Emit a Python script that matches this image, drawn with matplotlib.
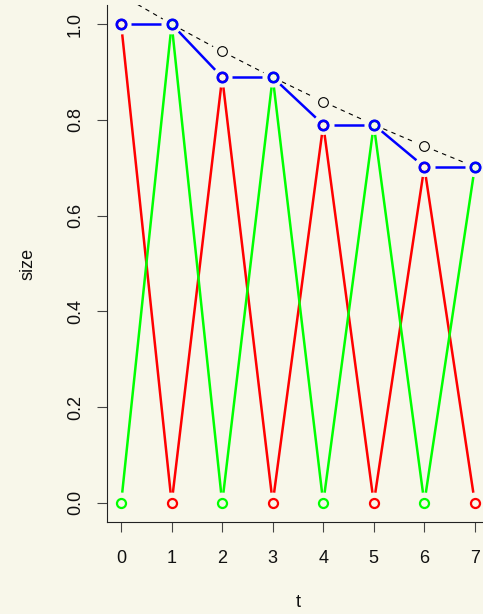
import numpy as np
import matplotlib

matplotlib.use("Agg")
import matplotlib.pyplot as plt

plt.rcParams["font.family"] = ["Liberation Sans", "DejaVu Sans"]

BG = "#f8f7ea"

t = [0, 1, 2, 3, 4, 5, 6, 7]
red = [1.0, 0.0, 0.889, 0.0, 0.790, 0.0, 0.702, 0.0]
green = [0.0, 1.0, 0.0, 0.889, 0.0, 0.790, 0.0, 0.702]
blue = [1.0, 1.0, 0.889, 0.889, 0.790, 0.790, 0.702, 0.702]
envelope = [1.061, 1.0, 0.943, 0.889, 0.838, 0.790, 0.745, 0.702]

x_ticks = [0, 1, 2, 3, 4, 5, 6, 7]
y_ticks = [0.0, 0.2, 0.4, 0.6, 0.8, 1.0]
y_ticklabels = ["0.0", "0.2", "0.4", "0.6", "0.8", "1.0"]


def joined_with_gaps(ax, x, y, gap_pt, **kw):
    """Connect points like R's type='b': each segment stops short of the points."""
    gap = gap_pt * ax.figure.dpi / 72.0
    pts = ax.transData.transform(np.column_stack([x, y]))
    inv = ax.transData.inverted()
    for p0, p1 in zip(pts[:-1], pts[1:]):
        d = p1 - p0
        length = np.hypot(*d)
        if length <= 2 * gap:
            continue
        u = d / length
        seg = inv.transform(np.array([p0 + u * gap, p1 - u * gap]))
        ax.plot(seg[:, 0], seg[:, 1], solid_capstyle="butt", dash_capstyle="butt", **kw)


fig = plt.figure(figsize=(4.83, 6.14), dpi=100, facecolor=BG)
ax = fig.add_axes([107 / 483, 92 / 614, 382 / 483, 517 / 614], facecolor=BG)
ax.set_xlim(-0.28, 7.28)
ax.set_ylim(-0.04, 1.04)

gap = 7.4
joined_with_gaps(ax, t, red, gap, color="#ff0000", lw=1.8, zorder=2)
joined_with_gaps(ax, t, green, gap, color="#00ff00", lw=1.8, zorder=2)
ax.plot(t, red, ls="none", marker="o", ms=6.5, mfc="none", mec="#ff0000", mew=1.6, zorder=3)
ax.plot(t, green, ls="none", marker="o", ms=6.5, mfc="none", mec="#00ff00", mew=1.6, zorder=3)

joined_with_gaps(ax, t, envelope, gap, color="black", lw=0.8, dashes=(4, 4), zorder=4)
ax.plot(t, envelope, ls="none", marker="o", ms=7, mfc="none", mec="black", mew=0.8, zorder=4)

joined_with_gaps(ax, t, blue, gap, color="#0000ff", lw=1.8, zorder=5)
ax.plot(t, blue, ls="none", marker="o", ms=6.8, mfc="none", mec="#0000ff", mew=1.9, zorder=6)

for side in ("top", "right"):
    ax.spines[side].set_visible(False)
for side in ("left", "bottom"):
    ax.spines[side].set_color("#222222")
    ax.spines[side].set_linewidth(0.8)

ax.set_xticks(x_ticks)
ax.set_yticks(y_ticks)
ax.set_yticklabels(y_ticklabels, rotation=90, va="center")
ax.tick_params(axis="both", direction="out", length=7.5, width=0.8, color="#444444",
               labelsize=13, labelcolor="#111111")
ax.tick_params(axis="x", pad=13)
ax.tick_params(axis="y", pad=9)

ax.set_xlabel("t", fontsize=13, va="center", color="#111111")
ax.xaxis.set_label_coords(0.5, -0.156)
ax.set_ylabel("size", fontsize=13, va="center", color="#111111")
ax.yaxis.set_label_coords(-0.207, 0.5)

fig.savefig("out.png", dpi=100, facecolor=BG)
